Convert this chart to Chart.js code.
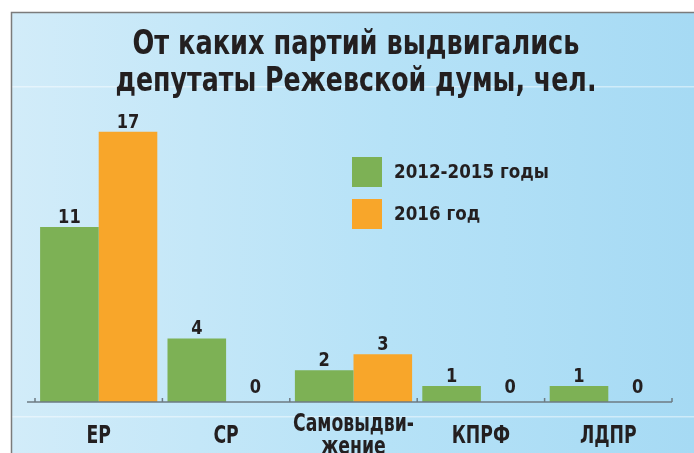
<!DOCTYPE html>
<html>
<head>
<meta charset="utf-8">
<script src="https://cdn.jsdelivr.net/npm/chart.js@4/dist/chart.umd.min.js"></script>
<style>
    html, body { margin: 0; padding: 0; background: #ffffff; }
    #kader { width: 694px; height: 453px; }
</style>
</head>
<body>
<div id="kader"><canvas id="Partij_Chart" width="694" height="453"></canvas></div>
<script>
// Data
var partijen = ['ЕР', 'СР', ['Самовыдви-', 'жение'], 'КПРФ', 'ЛДПР'];
var periode1 = [11, 4, 2, 1, 1];
var periode2 = [17, 0, 3, 0, 0];
var reeksNamen = ['2012-2015 годы', '2016 год'];
var titelRegels = ['От каких партий выдвигались', 'депутаты Режевской думы, чел.'];

var kleuren = ['#7db155', '#f8a62a'];
var tekstKleur = '#231f20';
var lettertype = "'DejaVu Sans Condensed', 'Liberation Sans Narrow', 'Roboto', sans-serif";

// Tekst horizontaal schalen (smalle letter zoals in het origineel)
function tekenSmal(ctx, tekst, midden, basis, factor) {
    ctx.save();
    ctx.translate(midden, basis);
    ctx.scale(factor, 1);
    ctx.fillText(tekst, 0, 0);
    ctx.restore();
}

// Achtergrond, kader, titel en legenda
var achtergrondPlugin = {
    id: 'achtergrond',
    beforeDraw: function (chart) {
        var ctx = chart.ctx;
        ctx.save();
        ctx.fillStyle = '#ffffff';
        ctx.fillRect(0, 0, 694, 453);
        var g = ctx.createLinearGradient(12, 0, 694, 0);
        g.addColorStop(0, '#d2ecf9');
        g.addColorStop(0.55, '#b6e2f7');
        g.addColorStop(1, '#a6daf4');
        ctx.fillStyle = g;
        ctx.fillRect(12, 13, 682, 440);
        // lichte strepen
        ctx.fillStyle = 'rgba(255,255,255,0.45)';
        ctx.fillRect(12, 86, 682, 1.5);
        ctx.fillRect(12, 416, 682, 1.5);
        // kader
        ctx.strokeStyle = '#7b7b7b';
        ctx.lineWidth = 1.5;
        ctx.beginPath();
        ctx.moveTo(11.5, 453);
        ctx.lineTo(11.5, 12.5);
        ctx.lineTo(694, 12.5);
        ctx.stroke();

        // titel, geschaald naar de breedte van het origineel
        ctx.fillStyle = tekstKleur;
        ctx.textBaseline = 'alphabetic';
        ctx.textAlign = 'center';
        ctx.font = 'bold 33px ' + lettertype;
        var breedtes = [447, 481];
        titelRegels.forEach(function (regel, i) {
            var f = breedtes[i] / ctx.measureText(regel).width;
            tekenSmal(ctx, regel, 356, 54 + i * 37, f);
        });

        // legenda
        ctx.font = 'bold 20px ' + lettertype;
        ctx.textAlign = 'left';
        for (var i = 0; i < reeksNamen.length; i++) {
            var y = 157 + i * 42;
            ctx.fillStyle = kleuren[i];
            ctx.fillRect(352, y, 30, 30);
            ctx.fillStyle = tekstKleur;
            tekenSmal(ctx, reeksNamen[i], 394, y + 21, 0.93);
        }
        ctx.restore();
    },
    afterDatasetsDraw: function (chart) {
        var ctx = chart.ctx;
        var x = chart.scales.x;
        var bodem = chart.chartArea.bottom;
        ctx.save();
        // aslijn en streepjes tussen de groepen
        ctx.strokeStyle = '#6e7b82';
        ctx.lineWidth = 1.5;
        ctx.beginPath();
        ctx.moveTo(27, bodem);
        ctx.lineTo(chart.chartArea.right, bodem);
        for (var i = 0; i <= partijen.length; i++) {
            var px = x.getPixelForValue(i - 0.5);
            ctx.moveTo(px, bodem);
            ctx.lineTo(px, bodem - 4);
        }
        ctx.stroke();

        // categorienamen onder de as
        ctx.fillStyle = tekstKleur;
        ctx.font = 'bold 24px ' + lettertype;
        ctx.textAlign = 'center';
        ctx.textBaseline = 'alphabetic';
        partijen.forEach(function (naam, i) {
            var px = x.getPixelForValue(i);
            if (Array.isArray(naam)) {
                naam.forEach(function (regel, r) {
                    tekenSmal(ctx, regel, px, bodem + 29 + r * 23, 0.8);
                });
            } else {
                tekenSmal(ctx, naam, px, bodem + 41, 0.8);
            }
        });

        // waarden boven de staven
        ctx.font = 'bold 19px ' + lettertype;
        chart.data.datasets.forEach(function (dataset, d) {
            chart.getDatasetMeta(d).data.forEach(function (staaf, j) {
                var waarde = dataset.data[j];
                var y = waarde === 0 ? staaf.y - 9 : staaf.y - 4;
                tekenSmal(ctx, String(waarde), staaf.x, y, 0.95);
            });
        });
        ctx.restore();
    }
};

var partijChart;
function tekenPartijGrafiek() {
    var ctx = document.getElementById('Partij_Chart').getContext('2d');
    partijChart = new Chart(ctx, {
        type: 'bar',
        data: {
            labels: partijen,
            datasets: [
                { label: reeksNamen[0], data: periode1, backgroundColor: kleuren[0] },
                { label: reeksNamen[1], data: periode2, backgroundColor: kleuren[1] }
            ]
        },
        options: {
            responsive: false,
            animation: false,
            devicePixelRatio: 1,
            layout: { padding: { left: 35, right: 22, top: 84, bottom: 51 } },
            categoryPercentage: 0.92,
            barPercentage: 1,
            plugins: {
                legend: { display: false },
                title: { display: false },
                tooltip: { enabled: false }
            },
            scales: {
                y: { display: false, min: 0, max: 20 },
                x: { display: false }
            }
        },
        plugins: [achtergrondPlugin]
    });
}

tekenPartijGrafiek();
</script>
</body>
</html>
